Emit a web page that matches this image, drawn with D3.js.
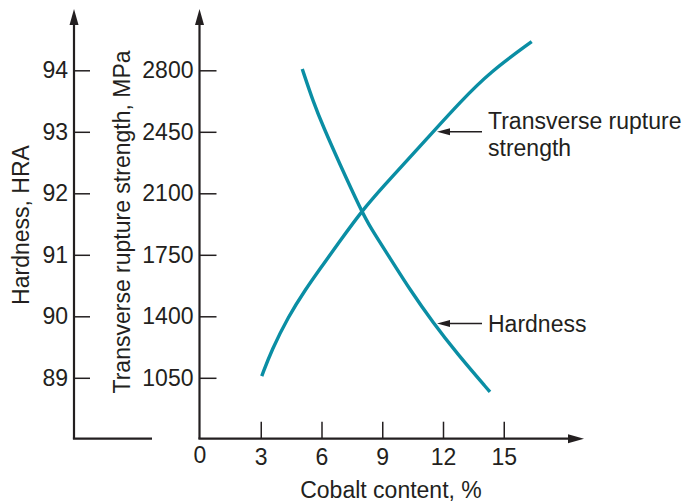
<!DOCTYPE html>
<html>
<head>
<meta charset="utf-8">
<script src="https://cdn.jsdelivr.net/npm/d3@7"></script>
<style>
  html, body { margin: 0; padding: 0; background: #fff; }
  svg text { font-family: "Liberation Sans", Arial, Helvetica, sans-serif; fill: #231f20; }
</style>
</head>
<body>
<svg id="chart" width="687" height="503"></svg>
<script>
// ---- Data ----
const cobaltTicks = [3, 6, 9, 12, 15];
const strengthTicks = [1050, 1400, 1750, 2100, 2450, 2800];
const hardnessTicks = [89, 90, 91, 92, 93, 94];

const strengthCobalt = [3.05, 3.54, 4.36, 5.19, 6.01, 6.83, 7.99, 9.14, 10.21, 11.52, 12.84, 14.32, 16.38];
const strengthValues = [1060, 1208, 1398, 1550, 1684, 1815, 2000, 2150, 2285, 2451, 2618, 2790, 2963];

const hardnessCobalt = [5.05, 5.60, 6.09, 6.91, 7.95, 8.40, 9.38, 10.37, 11.52, 12.68, 14.32];
const hardnessValues = [94.02, 93.48, 93.08, 92.47, 91.73, 91.45, 90.95, 90.43, 89.89, 89.40, 88.77];

// ---- Layout ----
const svg = d3.select("#chart");
const ink = "#231f20";
const teal = "#0a8ea4";
const FS = 23;

const innerX = 199.5, outerX = 74, baseY = 438.7, topY = 9;

const x = d3.scaleLinear().domain([0, 15]).range([200, 503.75]);
const yS = d3.scaleLinear().domain([1050, 2800]).range([377.8, 70.3]);
const yH = d3.scaleLinear().domain([89, 94]).range([377.8, 70.3]);

function arrowUp(cx) {
  svg.append("path")
    .attr("d", `M${cx},${topY} L${cx - 4.5},${topY + 16} L${cx + 4.5},${topY + 16} Z`)
    .attr("fill", ink);
}

// outer axis (hardness)
svg.append("line").attr("x1", outerX).attr("x2", outerX).attr("y1", topY + 6).attr("y2", baseY)
  .attr("stroke", ink).attr("stroke-width", 2.2);
svg.append("line").attr("x1", outerX - 1.1).attr("x2", 152).attr("y1", baseY).attr("y2", baseY)
  .attr("stroke", ink).attr("stroke-width", 2.2);
arrowUp(outerX);

// inner axis (strength)
svg.append("line").attr("x1", innerX).attr("x2", innerX).attr("y1", topY + 6).attr("y2", baseY)
  .attr("stroke", ink).attr("stroke-width", 2.2);
svg.append("line").attr("x1", innerX - 1.1).attr("x2", 570).attr("y1", baseY).attr("y2", baseY)
  .attr("stroke", ink).attr("stroke-width", 2.2);
arrowUp(innerX);
svg.append("path")
  .attr("d", `M584,${baseY} L568,${baseY - 4.5} L568,${baseY + 4.5} Z`)
  .attr("fill", ink);

// Y axes via d3
const fmt = d3.format("d");
const axH = d3.axisLeft(yH).tickValues(hardnessTicks).tickFormat(fmt).tickSizeInner(-16).tickSizeOuter(0).tickPadding(6);
const gH = svg.append("g").attr("transform", `translate(${outerX},0)`).call(axH);
const axS = d3.axisLeft(yS).tickValues(strengthTicks).tickFormat(fmt).tickSizeInner(-17).tickSizeOuter(0).tickPadding(6);
const gS = svg.append("g").attr("transform", `translate(${innerX},0)`).call(axS);

// X axis via d3
const axX = d3.axisBottom(x).tickValues(cobaltTicks).tickFormat(fmt).tickSizeInner(-17).tickSizeOuter(0).tickPadding(10);
const gX = svg.append("g").attr("transform", `translate(0,${baseY})`).call(axX);

[gH, gS, gX].forEach(g => {
  g.select(".domain").remove();
  g.selectAll(".tick line").attr("stroke", ink).attr("stroke-width", 1.5);
  g.selectAll(".tick text").attr("font-size", FS).attr("fill", ink)
    .style("font-family", '"Liberation Sans", Arial, sans-serif');
});
gX.selectAll(".tick text").attr("dy", "0.72em");

// "0" label at origin
svg.append("text").attr("x", x(0)).attr("y", 463).attr("text-anchor", "middle")
  .attr("font-size", FS).text("0");

// Axis titles
svg.append("text").attr("x", 391).attr("y", 498).attr("text-anchor", "middle")
  .attr("font-size", FS).text("Cobalt content, %");
svg.append("text").attr("transform", "translate(29,225) rotate(-90)").attr("text-anchor", "middle")
  .attr("font-size", FS).text("Hardness, HRA");
svg.append("text").attr("transform", "translate(130,222) rotate(-90)").attr("text-anchor", "middle")
  .attr("font-size", FS).text("Transverse rupture strength, MPa");

// Curves
const lineS = d3.line().x(d => x(d[0])).y(d => yS(d[1])).curve(d3.curveBasis);
const lineH = d3.line().x(d => x(d[0])).y(d => yH(d[1])).curve(d3.curveBasis);
svg.append("path").datum(strengthCobalt.map((c, i) => [c, strengthValues[i]]))
  .attr("d", lineS).attr("fill", "none").attr("stroke", teal).attr("stroke-width", 3.4);
svg.append("path").datum(hardnessCobalt.map((c, i) => [c, hardnessValues[i]]))
  .attr("d", lineH).attr("fill", "none").attr("stroke", teal).attr("stroke-width", 3.4);

// Annotations
function leader(x1, x2, yy) {
  svg.append("line").attr("x1", x1).attr("x2", x2 + 8).attr("y1", yy).attr("y2", yy)
    .attr("stroke", ink).attr("stroke-width", 1.4);
  svg.append("path").attr("d", `M${x2},${yy} L${x2 + 13},${yy - 3.5} L${x2 + 13},${yy + 3.5} Z`).attr("fill", ink);
}
leader(482, 437, 131.7);
leader(482, 437, 323.5);
svg.append("text").attr("x", 488).attr("y", 128.5).attr("font-size", FS).text("Transverse rupture");
svg.append("text").attr("x", 488).attr("y", 155.5).attr("font-size", FS).text("strength");
svg.append("text").attr("x", 488).attr("y", 332).attr("font-size", FS).text("Hardness");
</script>
</body>
</html>
